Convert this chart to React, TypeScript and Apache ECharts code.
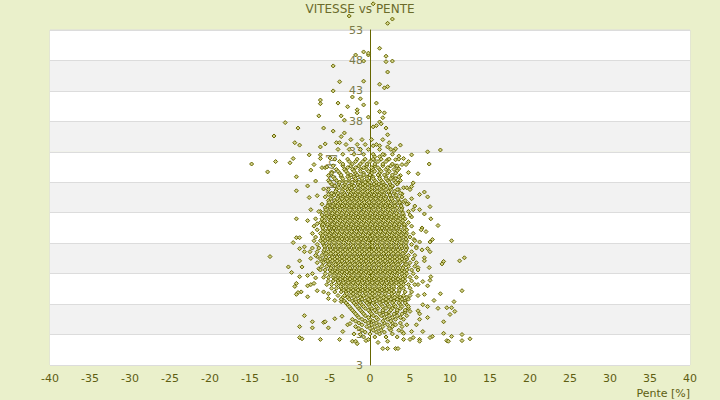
import React, { useEffect, useRef } from 'react';
import * as echarts from 'echarts';

const chartTitle = 'VITESSE vs PENTE';
const xAxisName = 'Pente [%]';
const yAxisName = 'Vitesse [km/h]';
const xMin = -40;
const xMax = 40;
const xStep = 5;
// y tick labels from bottom to top, as printed in the picture
const yTickLabels = ['3', '3', '8', '13', '18', '23', '28', '33', '38', '43', '48', '53'];
const yBottom = -2; // speed value of the bottom edge on the picture's scale

// scattered points: [pente, vitesse]
const sparsePoints: [number, number][] = [
  [0.4, 57.3], [-2.6, 55.3], [2.2, 54.1], [2.8, 54.8], [1.2, 50.0], [2.0, 48.7], [-0.8, 49.4],
  [-0.2, 48.9], [-0.2, 49.2], [-1.8, 48.9], [-0.8, 47.9], [2.8, 47.9], [2.0, 47.8], [-4.6, 47.1],
  [2.2, 46.1], [-3.8, 44.5], [-0.8, 44.6], [1.2, 44.1], [1.8, 43.5], [2.2, 43.7], [-4.6, 43.0],
  [-6.2, 41.5], [-6.2, 40.9], [-4.0, 41.0], [-2.8, 40.4], [-2.2, 42.0], [-1.2, 41.7], [-0.8, 40.7],
  [0.8, 41.0], [1.2, 39.6], [1.8, 39.4], [1.6, 38.6], [-6.4, 38.9], [-3.6, 38.9], [-3.2, 38.2],
  [-1.6, 39.9], [-1.6, 39.4], [-10.6, 37.8], [-9.0, 36.9], [-5.8, 36.9], [-0.2, 38.7], [0.8, 37.3],
  [0.4, 37.1], [2.0, 36.9], [1.2, 37.9], [1.4, 37.6], [-4.6, 36.4], [-12.0, 35.6], [-9.4, 34.5],
  [-8.8, 34.1], [-6.2, 33.8], [-5.6, 34.3], [-4.2, 34.5], [-3.8, 34.5], [-3.6, 35.5], [-3.2, 36.1],
  [-14.8, 31.0], [-11.8, 31.4], [-10.0, 31.2], [-9.6, 31.9], [-12.8, 29.7], [-7.6, 32.5], [-6.2, 32.5],
  [-6.2, 31.9], [-5.0, 32.0], [-7.0, 30.9], [-7.4, 30.0], [-6.0, 30.4], [-5.6, 30.4], [-5.4, 30.5],
  [-9.2, 28.9], [-6.8, 28.2], [-5.2, 29.1], [-4.8, 29.7], [-5.8, 26.9], [-7.8, 27.4], [-9.2, 26.6],
  [-7.6, 25.5], [-6.6, 25.8], [-5.2, 26.0], [-7.4, 23.5], [-6.2, 23.2], [-9.2, 22.0], [-7.8, 21.7],
  [-6.6, 21.2], [-5.8, 21.5],
  [0.4, 34.0], [1.2, 34.0], [2.2, 33.8], [2.4, 34.5], [2.2, 35.8], [3.8, 34.1], [3.0, 33.2],
  [3.2, 33.5], [7.2, 33.0], [8.8, 33.3], [0.6, 32.2], [0.5, 31.7], [1.8, 32.5], [1.2, 32.2],
  [2.2, 31.7], [3.2, 31.7], [3.6, 32.3], [4.2, 31.9], [5.2, 32.5], [4.8, 31.4], [7.4, 31.0],
  [3.2, 30.7], [4.0, 30.9], [4.5, 30.9], [3.6, 30.2], [3.4, 29.9], [4.8, 29.6], [6.0, 29.4],
  [3.8, 29.1], [3.2, 28.6], [3.5, 27.9], [5.4, 27.9], [2.8, 27.3], [4.2, 27.1], [4.6, 27.1],
  [5.2, 27.3], [5.0, 26.8], [3.6, 26.8], [4.0, 26.1], [6.8, 26.4], [6.2, 26.0], [7.2, 25.6],
  [5.2, 25.3], [4.2, 24.8], [4.8, 24.5], [5.6, 24.1], [5.4, 23.5], [6.2, 23.5], [7.5, 24.0],
  [6.8, 22.8], [5.2, 22.3], [7.6, 22.0], [8.5, 20.9], [6.5, 20.5], [4.4, 20.9],
  [6.4, 20.2], [7.0, 19.9], [5.5, 18.6], [6.2, 18.2], [7.8, 18.6], [7.5, 18.2], [10.2, 18.4],
  [5.8, 17.4], [6.5, 16.9], [7.2, 17.1], [7.5, 16.6], [6.8, 15.6], [6.8, 15.1], [9.2, 15.0],
  [9.0, 14.6], [11.2, 15.1], [11.8, 15.6], [7.4, 14.0], [6.0, 14.0], [7.6, 12.5], [7.5, 11.9],
  [7.2, 11.0], [6.6, 11.7], [6.0, 11.2], [8.8, 9.7], [6.8, 9.6], [6.0, 9.4], [11.5, 10.2],
  [8.0, 8.6], [10.5, 8.4], [6.6, 7.9], [7.2, 7.6], [8.5, 7.3], [9.6, 7.4], [10.2, 7.4],
  [10.0, 6.3], [10.6, 6.8], [9.2, 5.1], [7.2, 5.8], [6.2, 5.5], [9.2, 3.2], [10.2, 2.7],
  [11.5, 3.0], [12.5, 2.3], [11.5, 2.0], [9.6, 2.0], [9.8, 1.9], [7.8, 2.7], [7.5, 2.5],
  [6.2, 2.2], [6.2, 1.9], [5.4, 2.5], [4.2, 2.2], [5.0, 2.2], [2.2, 0.7], [3.2, 0.7],
  [3.5, 0.7], [1.6, 0.7], [1.0, 1.7], [2.2, 1.9], [4.0, 3.5], [4.2, 3.2], [5.2, 3.5],
  [6.6, 3.5], [5.8, 4.6], [4.6, 4.6], [6.0, 6.9], [6.2, 6.4], [5.0, 6.8],
  [-9.2, 18.9], [-8.8, 18.9], [-9.6, 18.1], [-8.8, 17.1], [-8.2, 17.4], [-8.2, 16.6], [-7.5, 16.6],
  [-12.5, 15.8], [-7.4, 15.5], [-6.6, 15.8], [-8.8, 15.1], [-8.5, 14.1], [-10.2, 14.1], [-9.8, 13.2],
  [-8.8, 12.5], [-7.8, 12.7], [-7.2, 13.0], [-6.8, 12.3], [-6.4, 13.8], [-6.0, 15.0], [-9.2, 11.4],
  [-9.4, 10.9], [-7.8, 11.0], [-7.4, 11.2], [-7.0, 11.4], [-8.6, 10.0], [-9.0, 9.9], [-9.2, 9.6],
  [-7.8, 9.2], [-6.6, 10.2], [-5.8, 10.0], [-5.2, 9.7], [-5.2, 8.9], [-4.4, 8.6], [-3.6, 8.4],
  [-8.2, 6.1], [-8.8, 4.3], [-7.2, 5.1], [-7.2, 4.1], [-5.8, 5.0], [-5.6, 5.1], [-5.2, 4.1],
  [-4.4, 5.6], [-3.5, 6.0], [-3.4, 3.5], [-2.8, 4.6], [-2.5, 4.8], [-8.8, 2.5], [-8.5, 2.3],
  [-6.2, 2.2], [-3.8, 2.2], [-2.2, 1.9], [-1.8, 1.9], [-1.6, 1.5], [-0.5, 2.0], [-0.2, 2.2],
  [-1.2, 3.0],
];

// upper and lower fringes of the cloud, medium density: [vitesse, pentes]
const fringeRows: [number, number[]][] = [
  [35.0, [-2.4, -1.0, 0.2, 1.6]],
  [34.2, [-3.0, -1.6, -0.6, 0.8]],
  [33.4, [-4.0, -2.6, -1.2, -0.2, 1.2, 2.6]],
  [32.6, [-3.4, -2.0, -0.8, 0.4, 1.6, 2.8]],
  [31.8, [-4.4, -2.8, -1.6, -0.6, 0.4, 1.4, 2.4, 3.6]],
  [31.4, [-3.8, -2.6, -1.8, -0.9, 0.0, 1.0, 2.0]],
  [30.7, [-4.6, -3.4, -2.4, -1.4, -0.4, 0.6, 1.6, 2.6, 3.4]],
  [30.1, [-4.2, -3.2, -2.2, -1.2, -0.4, 0.4, 1.2, 2.0, 3.0]],
  [29.5, [-4.8, -3.8, -2.8, -1.8, -0.8, 0.2, 1.2, 2.2, 3.2]],
  [28.9, [-4.6, -3.6, -2.8, -2.0, -1.2, -0.4, 0.4, 1.2, 2.0, 2.8, 3.6]],
  [28.3, [-5.2, -4.2, -3.4, -2.6, -1.8, -1.0, -0.2, 0.6, 1.4, 2.2, 3.0, 3.8]],
  [27.7, [-4.8, -3.9, -3.1, -2.3, -1.5, -0.9, -0.3, 0.5, 1.1, 1.7, 2.5, 3.4]],
  [9.1, [-3.4, -2.8, -2.0, -1.2, -0.4, 0.2, 1.0, 1.7, 2.4, 3.1, 3.8, 4.6]],
  [8.5, [-3.2, -2.2, -1.4, -0.6, 0.0, 0.8, 1.6, 2.3, 3.0, 3.8, 4.4]],
  [7.9, [-2.8, -1.8, -1.0, -0.2, 0.6, 1.4, 2.2, 3.0, 3.8, 4.6]],
  [7.3, [-2.4, -1.4, -0.6, 0.2, 1.0, 2.0, 2.8, 3.8, 4.8]],
  [6.7, [-2.0, -1.0, 0.0, 0.8, 1.6, 2.4, 3.4, 4.4]],
  [6.1, [-1.6, -0.6, 0.4, 1.4, 2.4, 3.4, 4.6]],
  [5.5, [-2.2, -1.0, 0.0, 1.0, 2.2, 3.2, 4.2]],
  [4.9, [-1.4, -0.2, 0.8, 1.8, 2.8, 3.8]],
  [4.3, [-1.8, -0.4, 0.6, 1.6, 2.8, 4.0]],
  [3.7, [-1.0, 0.4, 1.4, 2.6, 3.6]],
  [3.1, [-2.0, 0.0, 1.2, 2.8]],
  [2.6, [-0.8, 0.6, 2.0, 3.4]],
];

// dense centre of the cloud, row by row: [vitesse, pentes]
const coreRows: [number, number[]][] = [
  [31.0, [-3.4, -2.2, -1.2, -0.4, 0.6, 1.6, 2.8]],
  [30.4, [-2.8, -1.8, -0.8, 0.2, 1.0, 2.2]],
  [29.8, [-4.0, -3.0, -2.0, -1.2, -0.2, 0.6, 1.4, 2.4]],
  [29.2, [-3.6, -2.4, -1.6, -0.8, 0.0, 1.0, 1.8, 2.8]],
  [28.6, [-4.4, -3.4, -2.6, -1.8, -1.0, -0.4, 0.4, 1.2, 2.0, 2.6]],
  [28.0, [-5.0, -3.8, -3.0, -2.2, -1.4, -0.6, 0.0, 0.8, 1.6, 2.4, 3.2]],
  [27.4, [-4.4, -3.4, -2.6, -2.0, -1.2, -0.6, 0.2, 0.8, 1.4, 2.0, 2.8]],
  [26.8, [-5.2, -4.2, -3.4, -2.8, -2.2, -1.6, -1.0, -0.4, 0.2, 0.8, 1.4, 2.0, 2.6, 3.4]],
  [26.2, [-4.8, -4.0, -3.2, -2.4, -1.8, -1.2, -0.6, 0.0, 0.6, 1.2, 1.8, 2.4, 3.0, 3.8]],
  [25.6, [-5.6, -4.8, -4.0, -3.4, -2.8, -2.2, -1.6, -1.0, -0.4, 0.2, 0.8, 1.4, 2.0, 2.6, 3.2, 4.0]],
  [25.0, [-5.2, -4.4, -3.8, -3.2, -2.6, -2.0, -1.4, -0.8, -0.2, 0.4, 1.0, 1.6, 2.2, 2.8, 3.6, 4.4]],
  [24.4, [-6.0, -5.2, -4.6, -4.0, -3.4, -2.8, -2.2, -1.6, -1.0, -0.4, 0.2, 0.8, 1.4, 2.0, 2.6, 3.2, 3.8, 4.6]],
  [23.8, [-5.6, -5.0, -4.4, -3.8, -3.2, -2.6, -2.0, -1.4, -0.8, -0.2, 0.4, 1.0, 1.6, 2.2, 2.8, 3.4, 4.0]],
  [23.2, [-6.4, -5.6, -5.0, -4.4, -3.8, -3.2, -2.6, -2.0, -1.4, -0.8, -0.2, 0.4, 1.0, 1.6, 2.2, 2.8, 3.4, 4.0, 4.8]],
  [22.6, [-6.0, -5.4, -4.8, -4.2, -3.6, -3.0, -2.4, -1.8, -1.2, -0.6, 0.0, 0.6, 1.2, 1.8, 2.4, 3.0, 3.6, 4.2, 5.0]],
  [22.0, [-6.8, -6.0, -5.2, -4.6, -4.0, -3.4, -2.8, -2.2, -1.6, -1.0, -0.4, 0.2, 0.8, 1.4, 2.0, 2.6, 3.2, 3.8, 4.4]],
  [21.4, [-6.2, -5.6, -5.0, -4.4, -3.8, -3.2, -2.6, -2.0, -1.4, -0.8, -0.2, 0.4, 1.0, 1.6, 2.2, 2.8, 3.4, 4.0, 4.8]],
  [20.8, [-7.0, -6.0, -5.4, -4.8, -4.2, -3.6, -3.0, -2.4, -1.8, -1.2, -0.6, 0.0, 0.6, 1.2, 1.8, 2.4, 3.0, 3.6, 4.2, 5.2]],
  [20.2, [-6.6, -5.8, -5.2, -4.6, -4.0, -3.4, -2.8, -2.2, -1.6, -1.0, -0.4, 0.2, 0.8, 1.4, 2.0, 2.6, 3.2, 3.8, 4.6]],
  [19.6, [-7.2, -6.2, -5.6, -5.0, -4.4, -3.8, -3.2, -2.6, -2.0, -1.4, -0.8, -0.2, 0.4, 1.0, 1.6, 2.2, 2.8, 3.4, 4.0, 4.6, 5.4]],
  [19.0, [-6.8, -6.0, -5.4, -4.8, -4.2, -3.6, -3.0, -2.4, -1.8, -1.2, -0.6, 0.0, 0.6, 1.2, 1.8, 2.4, 3.0, 3.6, 4.2, 5.0]],
  [18.4, [-7.0, -6.2, -5.6, -5.0, -4.4, -3.8, -3.2, -2.6, -2.0, -1.4, -0.8, -0.2, 0.4, 1.0, 1.6, 2.2, 2.8, 3.4, 4.0, 4.6, 5.6]],
  [17.8, [-6.6, -5.8, -5.2, -4.6, -4.0, -3.4, -2.8, -2.2, -1.6, -1.0, -0.4, 0.2, 0.8, 1.4, 2.0, 2.6, 3.2, 3.8, 4.4, 5.2]],
  [17.2, [-7.2, -6.4, -5.6, -5.0, -4.4, -3.8, -3.2, -2.6, -2.0, -1.4, -0.8, -0.2, 0.4, 1.0, 1.6, 2.2, 2.8, 3.4, 4.0, 4.6, 5.8]],
  [16.6, [-6.6, -5.8, -5.2, -4.6, -4.0, -3.4, -2.8, -2.2, -1.6, -1.0, -0.4, 0.2, 0.8, 1.4, 2.0, 2.6, 3.2, 3.8, 4.4, 5.2]],
  [16.0, [-6.8, -6.0, -5.4, -4.8, -4.2, -3.6, -3.0, -2.4, -1.8, -1.2, -0.6, 0.0, 0.6, 1.2, 1.8, 2.4, 3.0, 3.6, 4.2, 4.8, 5.6]],
  [15.4, [-6.2, -5.6, -5.0, -4.4, -3.8, -3.2, -2.6, -2.0, -1.4, -0.8, -0.2, 0.4, 1.0, 1.6, 2.2, 2.8, 3.4, 4.0, 4.6, 5.4]],
  [14.8, [-6.6, -5.8, -5.2, -4.6, -4.0, -3.4, -2.8, -2.2, -1.6, -1.0, -0.4, 0.2, 0.8, 1.4, 2.0, 2.6, 3.2, 3.8, 4.4, 5.0, 5.8]],
  [14.2, [-6.0, -5.4, -4.8, -4.2, -3.6, -3.0, -2.4, -1.8, -1.2, -0.6, 0.0, 0.6, 1.2, 1.8, 2.4, 3.0, 3.6, 4.2, 4.8, 5.6]],
  [13.6, [-6.2, -5.6, -5.0, -4.4, -3.8, -3.2, -2.6, -2.0, -1.4, -0.8, -0.2, 0.4, 1.0, 1.6, 2.2, 2.8, 3.4, 4.0, 4.6, 5.2, 6.0]],
  [13.0, [-5.6, -5.0, -4.4, -3.8, -3.2, -2.6, -2.0, -1.4, -0.8, -0.2, 0.4, 1.0, 1.6, 2.2, 2.8, 3.4, 4.0, 4.6, 5.4]],
  [12.4, [-5.8, -5.2, -4.6, -4.0, -3.4, -2.8, -2.2, -1.6, -1.0, -0.4, 0.2, 0.8, 1.4, 2.0, 2.6, 3.2, 3.8, 4.4, 5.0, 5.8]],
  [11.8, [-5.2, -4.6, -4.0, -3.4, -2.8, -2.2, -1.6, -1.0, -0.4, 0.2, 0.8, 1.4, 2.0, 2.6, 3.2, 3.8, 4.4, 5.2]],
  [11.2, [-5.4, -4.8, -4.2, -3.6, -3.0, -2.4, -1.8, -1.2, -0.6, 0.0, 0.6, 1.2, 1.8, 2.4, 3.0, 3.6, 4.2, 4.8, 5.6]],
  [10.6, [-4.8, -4.2, -3.6, -3.0, -2.4, -1.8, -1.2, -0.6, 0.0, 0.6, 1.2, 1.8, 2.4, 3.0, 3.6, 4.2, 5.0]],
  [10.0, [-4.4, -3.6, -3.0, -2.4, -1.8, -1.2, -0.6, 0.0, 0.6, 1.2, 1.8, 2.4, 3.0, 3.6, 4.4, 5.2]],
  [9.4, [-4.0, -3.2, -2.4, -1.6, -0.8, 0.0, 0.6, 1.4, 2.0, 2.8, 3.4, 4.2, 5.0]],
  [8.8, [-3.6, -2.6, -1.8, -1.0, -0.2, 0.6, 1.2, 2.0, 2.6, 3.4, 4.0, 4.8]],
  [8.2, [-3.0, -2.0, -1.2, -0.4, 0.4, 1.2, 2.0, 2.8, 3.6, 4.4]],
  [7.6, [-2.6, -1.6, -0.8, 0.0, 0.8, 1.6, 2.4, 3.2, 4.0, 4.8]],
  [7.0, [-2.2, -1.2, -0.2, 0.6, 1.6, 2.6, 3.4, 4.4]],
  [6.4, [-1.8, -0.8, 0.2, 1.2, 2.0, 3.0, 4.0]],
  [5.8, [-1.4, -0.2, 0.8, 1.8, 2.8, 3.8]],
  [5.2, [-1.8, -0.6, 0.4, 1.6, 2.6]],
  [4.6, [-1.0, 0.2, 1.2, 2.2, 3.2]],
  [4.0, [-1.4, 0.0, 1.0, 2.4]],
  [3.4, [-0.6, 0.8, 1.8]],
];

// the very densest part, between the rows above: [vitesse, pentes]
const innerRows: [number, number[]][] = [
  [27.1, [-3.9, -3.1, -2.3, -1.5, -0.9, -0.3, 0.3, 0.9, 1.7, 2.5]],
  [26.5, [-4.3, -3.5, -2.7, -2.1, -1.5, -0.9, -0.3, 0.3, 0.9, 1.5, 2.3, 3.1]],
  [25.9, [-4.5, -3.7, -3.1, -2.5, -1.9, -1.3, -0.7, -0.1, 0.5, 1.1, 1.7, 2.5, 3.3]],
  [25.3, [-4.9, -4.1, -3.5, -2.9, -2.3, -1.7, -1.1, -0.5, 0.1, 0.7, 1.3, 1.9, 2.7, 3.5]],
  [24.7, [-5.1, -4.3, -3.7, -3.1, -2.5, -1.9, -1.3, -0.7, -0.1, 0.5, 1.1, 1.7, 2.3, 3.1, 3.7]],
  [24.1, [-5.3, -4.7, -4.1, -3.5, -2.9, -2.3, -1.7, -1.1, -0.5, 0.1, 0.7, 1.3, 1.9, 2.5, 3.1, 3.9]],
  [23.5, [-5.5, -4.9, -4.3, -3.7, -3.1, -2.5, -1.9, -1.3, -0.7, -0.1, 0.5, 1.1, 1.7, 2.3, 2.9, 3.9]],
  [22.9, [-5.5, -4.7, -4.1, -3.5, -2.9, -2.3, -1.7, -1.1, -0.5, 0.1, 0.7, 1.3, 1.9, 2.5, 3.3, 4.1]],
  [22.3, [-5.7, -5.1, -4.5, -3.9, -3.3, -2.7, -2.1, -1.5, -0.9, -0.3, 0.3, 0.9, 1.5, 2.1, 2.7, 3.3, 4.1]],
  [21.7, [-5.7, -4.9, -4.3, -3.7, -3.1, -2.5, -1.9, -1.3, -0.7, -0.1, 0.5, 1.1, 1.7, 2.3, 2.9, 3.5, 4.1]],
  [21.1, [-5.9, -5.3, -4.7, -4.1, -3.5, -2.9, -2.3, -1.7, -1.1, -0.5, 0.1, 0.7, 1.3, 1.9, 2.5, 3.1, 3.7, 4.3]],
  [20.5, [-5.9, -5.1, -4.5, -3.9, -3.3, -2.7, -2.1, -1.5, -0.9, -0.3, 0.3, 0.9, 1.5, 2.1, 2.7, 3.3, 4.3]],
  [19.9, [-5.9, -5.3, -4.7, -4.1, -3.5, -2.9, -2.3, -1.7, -1.1, -0.5, 0.1, 0.7, 1.3, 1.9, 2.5, 3.1, 3.7, 4.3]],
  [19.3, [-5.9, -5.1, -4.5, -3.9, -3.3, -2.7, -2.1, -1.5, -0.9, -0.3, 0.3, 0.9, 1.5, 2.1, 2.7, 3.3, 3.9, 4.5]],
  [18.7, [-5.9, -5.3, -4.7, -4.1, -3.5, -2.9, -2.3, -1.7, -1.1, -0.5, 0.1, 0.7, 1.3, 1.9, 2.5, 3.1, 3.7, 4.5]],
  [18.1, [-5.9, -5.1, -4.5, -3.9, -3.3, -2.7, -2.1, -1.5, -0.9, -0.3, 0.3, 0.9, 1.5, 2.1, 2.7, 3.3, 3.9, 4.5]],
  [17.5, [-5.7, -5.1, -4.5, -3.9, -3.3, -2.7, -2.1, -1.5, -0.9, -0.3, 0.3, 0.9, 1.5, 2.1, 2.7, 3.3, 3.9, 4.5]],
  [16.9, [-5.7, -4.9, -4.3, -3.7, -3.1, -2.5, -1.9, -1.3, -0.7, -0.1, 0.5, 1.1, 1.7, 2.3, 2.9, 3.5, 4.5]],
  [16.3, [-5.5, -4.9, -4.3, -3.7, -3.1, -2.5, -1.9, -1.3, -0.7, -0.1, 0.5, 1.1, 1.7, 2.3, 2.9, 3.5, 4.1]],
  [15.7, [-5.5, -4.7, -4.1, -3.5, -2.9, -2.3, -1.7, -1.1, -0.5, 0.1, 0.7, 1.3, 1.9, 2.5, 3.1, 3.7, 4.5]],
  [15.1, [-5.3, -4.7, -4.1, -3.5, -2.9, -2.3, -1.7, -1.1, -0.5, 0.1, 0.7, 1.3, 1.9, 2.5, 3.1, 3.7, 4.3]],
  [14.5, [-5.1, -4.3, -3.7, -3.1, -2.5, -1.9, -1.3, -0.7, -0.1, 0.5, 1.1, 1.7, 2.3, 2.9, 3.5, 4.5]],
  [13.9, [-4.9, -4.3, -3.7, -3.1, -2.5, -1.9, -1.3, -0.7, -0.1, 0.5, 1.1, 1.7, 2.3, 2.9, 3.5, 4.1]],
  [13.3, [-4.7, -4.1, -3.5, -2.9, -2.3, -1.7, -1.1, -0.5, 0.1, 0.7, 1.3, 1.9, 2.5, 3.1, 3.7, 4.3]],
  [12.7, [-4.5, -3.9, -3.3, -2.7, -2.1, -1.5, -0.9, -0.3, 0.3, 0.9, 1.5, 2.1, 2.7, 3.3, 4.3]],
  [12.1, [-4.3, -3.7, -3.1, -2.5, -1.9, -1.3, -0.7, -0.1, 0.5, 1.1, 1.7, 2.3, 2.9, 3.5, 4.1]],
  [11.5, [-3.9, -3.3, -2.7, -2.1, -1.5, -0.9, -0.3, 0.3, 0.9, 1.5, 2.1, 2.7, 3.3, 3.9]],
  [10.9, [-3.7, -3.1, -2.5, -1.9, -1.3, -0.7, -0.1, 0.5, 1.1, 1.7, 2.3, 2.9, 3.9]],
  [10.3, [-3.3, -2.7, -2.1, -1.5, -0.9, -0.3, 0.3, 0.9, 1.5, 2.1, 2.7, 3.7]],
  [9.7, [-2.9, -2.1, -1.3, -0.5, 0.3, 1.1, 1.9, 2.7, 3.5]],
];

const olive = '#666600';
const font = 'DejaVu Sans, Verdana, sans-serif';

export default function App() {
  const ref = useRef<HTMLDivElement>(null);

  useEffect(() => {
    if (!ref.current) return;
    const chart = echarts.init(ref.current, undefined, { renderer: 'svg' });

    const rowsToPoints = (rows: [number, number[]][]) =>
      rows.flatMap(([v, xs]) => xs.map((x) => [x, v] as [number, number]));
    const allPoints: [number, number][] = sparsePoints
      .concat(rowsToPoints(fringeRows))
      .concat(rowsToPoints(coreRows))
      .concat(rowsToPoints(innerRows));
    const data = allPoints.map(([x, v]) => [x, v - yBottom]);
    const yMax = (yTickLabels.length - 1) * 5;

    chart.setOption({
      animation: false,
      backgroundColor: '#eaf0cb',
      title: {
        text: chartTitle,
        left: 'center',
        top: 3,
        padding: 0,
        textStyle: { color: '#6b6b2b', fontSize: 12, fontWeight: 'normal', fontFamily: font },
      },
      grid: {
        left: 50,
        right: 30,
        top: 30,
        bottom: 35,
        show: true,
        borderColor: '#dcdcdc',
        borderWidth: 1,
        backgroundColor: 'transparent',
      },
      xAxis: {
        type: 'value',
        min: xMin,
        max: xMax,
        interval: xStep,
        name: xAxisName,
        nameLocation: 'end',
        nameGap: 0,
        nameTextStyle: {
          color: '#5e5e12',
          fontSize: 11,
          fontFamily: font,
          align: 'right',
          verticalAlign: 'top',
          padding: [23, 0, 0, 0],
        },
        axisLine: { show: false, onZero: false },
        axisTick: { show: false },
        splitLine: { show: false },
        axisLabel: { color: '#5e5e12', fontSize: 11, fontFamily: font, margin: 8 },
      },
      yAxis: {
        type: 'value',
        min: 0,
        max: yMax,
        interval: 5,
        position: 'left',
        offset: -320,
        name: yAxisName,
        nameLocation: 'middle',
        nameRotate: 90,
        nameGap: 20,
        nameTextStyle: { color: '#86865a', fontSize: 12, fontFamily: font },
        axisLine: { show: true, onZero: false, lineStyle: { color: olive, width: 1 } },
        axisTick: { show: false },
        axisLabel: {
          color: '#7a7a4a',
          fontSize: 11,
          fontFamily: font,
          margin: 7,
          formatter: (v: number) => yTickLabels[Math.round(v / 5)] ?? '',
        },
        splitLine: { show: true, lineStyle: { color: '#dcdcdc', width: 1 } },
        splitArea: { show: true, areaStyle: { color: ['#ffffff', '#f2f2f2'] } },
      },
      series: [
        {
          type: 'scatter',
          data,
          clip: false,
          symbol: 'diamond',
          symbolSize: 4,
          itemStyle: { color: '#d2d288', borderColor: olive, borderWidth: 1, opacity: 1 },
          silent: true,
          z: 3,
        },
      ],
    });

    return () => chart.dispose();
  }, []);

  return (
    <div
      ref={ref}
      style={{ position: 'fixed', left: 0, top: 0, width: 720, height: 400 }}
    />
  );
}
